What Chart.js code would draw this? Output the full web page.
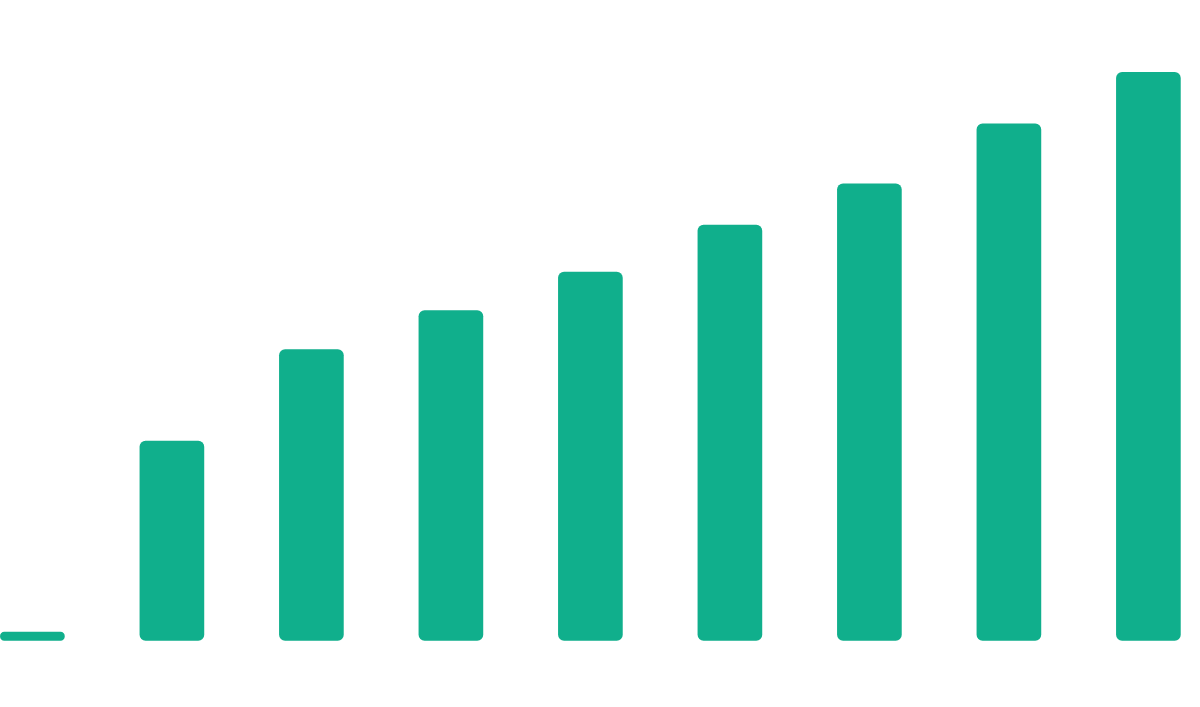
<!DOCTYPE html>
<html>
<head>
<meta charset="utf-8">
<script src="https://cdn.jsdelivr.net/npm/chart.js@4"></script>
<style>
  html, body { margin: 0; padding: 0; background: #fff; }
  #wrap { width: 1200px; height: 707px; position: relative; }
</style>
</head>
<body>
<div id="wrap"><canvas id="chart"></canvas></div>
<script>
const labels = ['1', '2', '3', '4', '5', '6', '7', '8', '9'];
const values = [1.4, 33.25, 48.5, 55, 61.4, 69.25, 76.1, 86.1, 94.7];
const yMax = 100;
const barColor = 'rgb(16, 175, 140)';

const ctx = document.getElementById('chart').getContext('2d');
const chart = new Chart(ctx, {
  type: 'bar',
  data: {
    labels,
    datasets: [{
      data: values,
      backgroundColor: barColor,
      borderRadius: 6,
      borderSkipped: false,
      barThickness: 64,
      clip: false
    }]
  },
  options: {
    responsive: true,
    maintainAspectRatio: false,
    animation: false,
    layout: {
      padding: { left: 32.4, right: 51.6, top: 40.5, bottom: 66.5 }
    },
    plugins: {
      legend: { display: false },
      tooltip: { enabled: false }
    },
    scales: {
      x: { display: false, offset: false, grid: { display: false } },
      y: { display: false, min: 0, max: yMax, grid: { display: false } }
    }
  }
});
</script>
</body>
</html>
